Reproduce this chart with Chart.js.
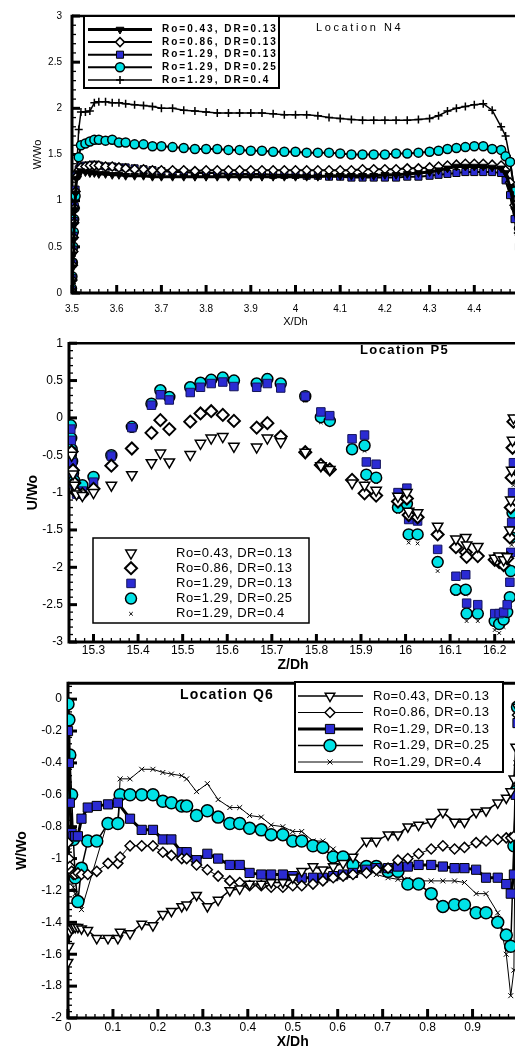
<!DOCTYPE html>
<html>
<head>
<meta charset="utf-8">
<script src="https://cdn.jsdelivr.net/npm/chart.js@4.4.1/dist/chart.umd.min.js"></script>
<style>
  html, body { margin: 0; padding: 0; background: #fff; overflow: hidden; width: 515px; height: 1048px; }
  .panel { position: absolute; left: 0; }
  canvas { display: block; }
</style>
</head>
<body>
<div class="panel" style="top:0px"><canvas id="chartN4" width="525" height="330"></canvas></div>
<div class="panel" style="top:330px"><canvas id="chartP5" width="525" height="345"></canvas></div>
<div class="panel" style="top:670px"><canvas id="chartQ6" width="525" height="385"></canvas></div>
<script>
// ===== Data =====
const caseLabels = ['Ro=0.43, DR=0.13', 'Ro=0.86, DR=0.13', 'Ro=1.29, DR=0.13', 'Ro=1.29, DR=0.25', 'Ro=1.29, DR=0.4'];

// Location N4 (W/Wo against X/Dh)
const n4X = [3.5, 3.501, 3.502, 3.503, 3.504, 3.505, 3.506, 3.508, 3.51, 3.515,
  3.52, 3.53, 3.54, 3.55, 3.56, 3.575, 3.59, 3.605, 3.62, 3.64,
  3.66, 3.68, 3.7, 3.725, 3.75, 3.775, 3.8, 3.825, 3.85, 3.875,
  3.9, 3.925, 3.95, 3.975, 4.0, 4.025, 4.05, 4.075, 4.1, 4.125,
  4.15, 4.175, 4.2, 4.225, 4.25, 4.275, 4.3, 4.32, 4.34, 4.36,
  4.38, 4.4, 4.42, 4.44, 4.46, 4.47, 4.48, 4.49, 4.5];
const n4Ro043 = [0.0, 0.12, 0.28, 0.42, 0.58, 0.74, 0.9, 1.08, 1.24, 1.3,
  1.32, 1.31, 1.3, 1.3, 1.29, 1.29, 1.28, 1.28, 1.27, 1.27,
  1.27, 1.26, 1.26, 1.26, 1.26, 1.26, 1.26, 1.26, 1.26, 1.26,
  1.26, 1.26, 1.26, 1.26, 1.26, 1.26, 1.26, 1.27, 1.27, 1.27,
  1.27, 1.27, 1.28, 1.28, 1.29, 1.3, 1.31, 1.33, 1.35, 1.37,
  1.37, 1.37, 1.37, 1.36, 1.35, 1.3, 1.15, 0.9, 0.6];
const n4Ro086 = [0.02, 0.14, 0.3, 0.45, 0.6, 0.76, 0.92, 1.1, 1.26, 1.33,
  1.36, 1.37, 1.38, 1.38, 1.38, 1.37, 1.37, 1.36, 1.35, 1.34,
  1.34, 1.33, 1.33, 1.33, 1.33, 1.32, 1.33, 1.33, 1.33, 1.33,
  1.33, 1.33, 1.33, 1.33, 1.33, 1.33, 1.33, 1.33, 1.33, 1.33,
  1.34, 1.34, 1.34, 1.34, 1.35, 1.35, 1.36, 1.37, 1.38, 1.39,
  1.4, 1.4, 1.4, 1.39, 1.38, 1.33, 1.2, 0.95, 0.65];
const n4Ro129 = [0.03, 0.16, 0.32, 0.47, 0.62, 0.78, 0.94, 1.12, 1.27, 1.34,
  1.37, 1.38, 1.38, 1.39, 1.38, 1.37, 1.37, 1.36, 1.36, 1.35,
  1.34, 1.33, 1.32, 1.31, 1.31, 1.3, 1.3, 1.3, 1.29, 1.29,
  1.29, 1.29, 1.28, 1.28, 1.28, 1.27, 1.27, 1.26, 1.26, 1.25,
  1.25, 1.25, 1.25, 1.25, 1.26, 1.26, 1.27, 1.28, 1.29, 1.3,
  1.31, 1.31, 1.31, 1.31, 1.3, 1.22, 1.06, 0.8, 0.5];
const n4Dr025 = [0.05, 0.18, 0.33, 0.5, 0.66, 0.8, 0.92, 1.05, 1.28, 1.47,
  1.6, 1.62, 1.64, 1.66, 1.66, 1.65, 1.66, 1.63, 1.63, 1.61,
  1.61, 1.59, 1.59, 1.58, 1.57, 1.56, 1.56, 1.56, 1.55, 1.55,
  1.54, 1.54, 1.53, 1.53, 1.53, 1.52, 1.52, 1.52, 1.51, 1.5,
  1.5, 1.5, 1.5, 1.51, 1.51, 1.52, 1.53, 1.54, 1.56, 1.57,
  1.58, 1.59, 1.59, 1.56, 1.55, 1.48, 1.42, 1.1, 0.7];
const n4Dr04 = [0.02, 0.14, 0.3, 0.46, 0.62, 0.78, 0.94, 1.12, 1.3, 1.77,
  1.96, 1.96, 1.97, 2.06, 2.07, 2.07, 2.06, 2.06, 2.05, 2.04,
  2.03, 2.02, 2.0, 2.0, 1.98, 1.97, 1.96, 1.95, 1.95, 1.95,
  1.95, 1.95, 1.94, 1.93, 1.93, 1.93, 1.92, 1.9, 1.89, 1.88,
  1.87, 1.87, 1.87, 1.87, 1.87, 1.88, 1.89, 1.92, 1.97, 2.0,
  2.02, 2.04, 2.05, 1.98, 1.8, 1.7, 1.45, 1.1, 0.8];
const n4XTicks = [3.5, 3.6, 3.7, 3.8, 3.9, 4.0, 4.1, 4.2, 4.3, 4.4];
const n4YTicks = [0, 0.5, 1, 1.5, 2, 2.5, 3];

// Location P5 (U/Wo against Z/Dh)
const p5Z = [15.249, 15.25, 15.251, 15.252, 15.254, 15.257, 15.262, 15.275, 15.3, 15.34,
  15.386, 15.43, 15.45, 15.47, 15.517, 15.54, 15.564, 15.59, 15.615, 15.666,
  15.69, 15.72, 15.775, 15.81, 15.83, 15.88, 15.908, 15.912, 15.934, 15.983,
  16.003, 16.007, 16.027, 16.072, 16.113, 16.135, 16.137, 16.162, 16.2, 16.21,
  16.22, 16.228, 16.234, 16.236, 16.238, 16.24, 16.242];
const p5Ro043 = [null, null, -0.5, null, -0.75, -0.9, -1.02, -1.04, -1.0, -0.9,
  -0.76, -0.6, -0.47, -0.59, -0.49, -0.34, -0.27, -0.25, -0.38, -0.39,
  -0.27, -0.32, -0.46, -0.64, -0.69, -0.87, -0.9, null, -0.97, -1.05,
  -1.0, -1.25, -1.27, -1.45, -1.62, -1.6, -1.7, -1.72, -1.88, -1.85,
  -1.9, -1.86, -1.5, -1.1, -0.7, -0.3, 0.0];
const p5Ro086 = [null, null, -0.45, null, -0.7, -0.87, -1.0, -1.02, -0.95, -0.64,
  -0.41, -0.2, -0.03, -0.15, -0.05, 0.06, 0.09, 0.04, -0.04, -0.13,
  -0.07, -0.25, -0.46, -0.63, -0.69, -0.83, -1.01, null, -1.04, -1.12,
  -1.08, -1.3, -1.33, -1.56, -1.73, -1.8, -1.86, -1.85, -1.9, -1.93,
  -1.97, -1.88, -1.6, -1.2, -0.8, -0.4, -0.05];
const p5Ro129 = [-0.15, -0.3, -0.45, -0.6, -0.72, -0.88, -1.02, -0.98, -0.86, -0.51,
  -0.13, 0.17, 0.31, 0.24, 0.34, 0.41, 0.46, 0.48, 0.42, 0.41,
  0.46, 0.4, 0.29, 0.08, 0.03, -0.28, -0.23, -0.59, -0.62, -1.0,
  -0.94, -1.36, -1.38, -1.76, -2.12, -2.1, -2.48, -2.5, -2.62, -2.62,
  -2.6, -2.5, -2.2, -1.8, -1.4, -1.0, -0.6];
const p5Dr025 = [-0.1, -0.27, -0.42, -0.58, -0.74, -0.84, -0.93, -0.9, -0.79, -0.5,
  -0.12, 0.19, 0.37, 0.28, 0.41, 0.47, 0.51, 0.54, 0.5, 0.46,
  0.52, 0.46, 0.29, 0.01, -0.04, -0.42, -0.37, -0.76, -0.8, -1.2,
  -1.15, -1.56, -1.56, -1.93, -2.3, -2.3, -2.62, -2.62, -2.72, -2.76,
  -2.7, -2.6, -2.4, -2.05, -1.6, -1.27, -0.8];
const p5Dr04 = [null, -0.22, -0.4, -0.55, -0.72, -0.9, -0.97, -0.94, -0.83, -0.55,
  -0.18, 0.15, 0.33, 0.25, 0.46, 0.51, 0.55, 0.58, 0.54, 0.5,
  0.57, 0.41, 0.23, -0.06, -0.02, -0.47, -0.44, -0.83, -0.86, -1.26,
  -1.22, -1.67, -1.68, -2.05, -2.36, -2.36, -2.72, -2.72, -2.84, -2.88,
  -2.8, -2.7, -2.5, -2.1, -1.7, -1.3, -0.9];
const p5XTicks = [15.3, 15.4, 15.5, 15.6, 15.7, 15.8, 15.9, 16.0, 16.1, 16.2];
const p5YTicks = [-3, -2.5, -2, -1.5, -1, -0.5, 0, 0.5, 1];

// Location Q6 (W/Wo against X/Dh)
const q6X = [0, 0.002, 0.004, 0.008, 0.012, 0.016, 0.022, 0.03, 0.044, 0.064,
  0.089, 0.111, 0.116, 0.138, 0.164, 0.189, 0.211, 0.23, 0.253, 0.264,
  0.286, 0.31, 0.334, 0.36, 0.382, 0.404, 0.43, 0.452, 0.478, 0.5,
  0.52, 0.545, 0.567, 0.59, 0.612, 0.634, 0.664, 0.686, 0.712, 0.734,
  0.756, 0.78, 0.808, 0.834, 0.86, 0.882, 0.908, 0.93, 0.956, 0.975,
  0.985, 0.992, 0.996, 1.0];
const q6Ro043 = [-1.65, -1.55, -1.46, -1.44, -1.43, -1.43, -1.43, -1.44, -1.45, -1.5,
  -1.5, -1.5, -1.46, -1.47, -1.41, -1.42, -1.35, -1.33, -1.3, -1.29,
  -1.23, -1.3, -1.26, -1.2, -1.19, -1.16, -1.16, -1.15, -1.15, -1.12,
  -1.08, -1.05, -1.07, -1.05, -1.03, -0.99, -0.89, -0.89, -0.85, -0.85,
  -0.8, -0.79, -0.77, -0.71, -0.77, -0.77, -0.71, -0.7, -0.65, -0.62,
  -0.58, -0.5, -0.3, -0.05];
const q6Ro086 = [-0.9, -1.0, -1.05, -1.08, -1.1, -1.1, -1.09, -1.1, -1.1, -1.08,
  -1.03, -1.03, -0.99, -0.92, -0.92, -0.92, -0.96, -0.98, -1.0, -1.0,
  -1.04, -1.07, -1.11, -1.14, -1.15, -1.17, -1.17, -1.18, -1.18, -1.17,
  -1.17, -1.16, -1.14, -1.12, -1.11, -1.1, -1.09, -1.07, -1.06, -1.01,
  -1.0, -0.97, -0.94, -0.92, -0.94, -0.93, -0.9, -0.89, -0.88, -0.87,
  -0.87, -0.86, -0.5, -0.1];
const q6Ro129 = [-0.2, -0.4, -0.65, -0.84, -0.86, -0.86, -0.86, -0.75, -0.68, -0.67,
  -0.66, -0.65, null, -0.75, -0.82, -0.82, -0.88, -0.88, -0.96, -0.96,
  -1.01, -0.97, -1.0, -1.04, -1.04, -1.09, -1.1, -1.1, -1.1, -1.11,
  -1.12, -1.12, -1.12, -1.11, -1.1, -1.09, -1.07, -1.06, -1.06, -1.05,
  -1.05, -1.04, -1.04, -1.05, -1.06, -1.06, -1.07, -1.12, -1.12, -1.16,
  -1.22, -1.1, -0.6, -0.15];
const q6Dr025 = [-0.03, -0.13, -0.35, -0.6, -0.88, -1.12, -1.27, -1.06, -0.89, -0.89,
  -0.78, -0.78, -0.6, -0.6, -0.6, -0.6, -0.64, -0.65, -0.67, -0.67,
  -0.73, -0.7, -0.74, -0.78, -0.78, -0.81, -0.82, -0.85, -0.85, -0.89,
  -0.89, -0.92, -0.93, -0.99, -0.99, -1.04, -1.05, -1.05, -1.08, -1.08,
  -1.16, -1.16, -1.22, -1.3, -1.29, -1.29, -1.34, -1.34, -1.4, -1.48,
  -1.55, -0.92, -0.58, -0.05];
const q6Dr04 = [-0.8, -0.95, -1.05, -1.12, -1.18, -1.22, -1.28, -1.32, null, null,
  -0.76, -0.76, -0.5, -0.5, -0.44, -0.44, -0.46, -0.47, -0.48, -0.5,
  -0.58, -0.53, -0.63, -0.68, -0.68, -0.73, -0.74, -0.79, -0.8, -0.83,
  -0.83, -0.89, -0.89, -0.94, -0.99, -1.0, -1.05, -1.1, -1.12, -1.13,
  -1.13, -1.14, -1.14, -1.14, -1.14, -1.15, -1.22, -1.22, -1.34, -1.6,
  -1.86, -1.7, -0.4, -0.05];
const q6XTicks = [0, 0.1, 0.2, 0.3, 0.4, 0.5, 0.6, 0.7, 0.8, 0.9, 1];
const q6YTicks = [-2, -1.8, -1.6, -1.4, -1.2, -1, -0.8, -0.6, -0.4, -0.2, 0];

// ===== Helpers =====
Chart.defaults.font.family = '"Liberation Sans", Arial, sans-serif';
Chart.defaults.color = '#000';

const BLUE = '#2b2bd3';
const CYAN = '#00e2e6';

const fmt = v => String(Number(v.toFixed(2)));
const points = (xs, ys) => xs.map((x, i) => ({ x, y: ys[i] })).filter(p => p.y !== null);
const fixedTicks = list => s => { s.ticks = list.map(v => ({ value: v })); };

// frame + inward tecplot-like ticks
const frameTicks = {
  id: 'frameTicks',
  beforeDatasetsDraw(chart, args, o) {
    const { ctx, chartArea: a, scales: { x, y } } = chart;
    const along = (scale, step, major, draw) => {
      const i0 = Math.ceil(scale.min / step - 1e-6), i1 = Math.floor(scale.max / step + 1e-6);
      for (let i = i0; i <= i1; i++) {
        const r = (i * step) / major;
        draw(scale.getPixelForValue(i * step), Math.abs(r - Math.round(r)) < 1e-6);
      }
    };
    ctx.save();
    ctx.strokeStyle = '#000';
    along(x, o.xMinor, o.xMajor, (px, big) => {
      ctx.lineWidth = big ? 3 : 1.3;
      ctx.beginPath();
      ctx.moveTo(px, a.bottom);
      ctx.lineTo(px, a.bottom - (big ? o.majorLen : o.minorLen));
      ctx.stroke();
    });
    along(y, o.yMinor, o.yMajor, (py, big) => {
      ctx.lineWidth = big ? 3 : 1.3;
      ctx.beginPath();
      ctx.moveTo(a.left, py);
      ctx.lineTo(a.left + (big ? o.majorLen : o.minorLen), py);
      ctx.stroke();
    });
    ctx.lineWidth = o.topW;
    ctx.beginPath();
    ctx.moveTo(a.left, a.top); ctx.lineTo(a.right, a.top); ctx.lineTo(a.right, a.bottom);
    ctx.stroke();
    ctx.lineWidth = o.axisW;
    ctx.beginPath();
    ctx.moveTo(a.left, a.top - o.topW / 2); ctx.lineTo(a.left, a.bottom); ctx.lineTo(a.right, a.bottom);
    ctx.stroke();
    ctx.restore();
  }
};

// boxed legend + location title
const boxLegend = {
  id: 'boxLegend',
  afterDraw(chart, args, o) {
    const ctx = chart.ctx;
    ctx.save();
    ctx.fillStyle = '#fff';
    ctx.fillRect(o.x, o.y, o.w, o.h);
    ctx.strokeStyle = '#000';
    ctx.lineWidth = o.border;
    ctx.strokeRect(o.x, o.y, o.w, o.h);
    ctx.textBaseline = 'middle';
    chart.data.datasets.forEach((ds, i) => {
      const cy = o.row0 + i * o.rowGap;
      if (o.lineFrom != null) {
        ctx.strokeStyle = '#000';
        ctx.lineWidth = ds.borderWidth;
        ctx.beginPath(); ctx.moveTo(o.lineFrom, cy); ctx.lineTo(o.lineTo, cy); ctx.stroke();
      }
      ctx.fillStyle = ds.pointBackgroundColor;
      ctx.strokeStyle = ds.pointBorderColor;
      ctx.lineWidth = ds.pointBorderWidth;
      Chart.helpers.drawPoint(ctx, {
        pointStyle: ds.pointStyle, rotation: ds.pointRotation || 0,
        radius: ds.pointRadius, borderWidth: ds.pointBorderWidth
      }, o.markX, cy);
      ctx.fillStyle = '#000';
      ctx.font = o.font;
      ctx.letterSpacing = o.spacing;
      ctx.fillText(ds.label, o.textX, cy);
    });
    ctx.font = o.titleFont;
    ctx.letterSpacing = o.titleSpacing;
    ctx.fillText(o.title, o.titleX, o.titleY);
    ctx.letterSpacing = '0px';
    ctx.restore();
  }
};

function axes(o) {
  return {
    x: {
      type: 'linear', min: o.xMin, max: o.xMax,
      afterBuildTicks: fixedTicks(o.xTicks),
      afterFit: s => { s.height = o.xH; },
      grid: { display: false, drawTicks: false }, border: { display: false },
      ticks: { callback: fmt, padding: o.xPad, font: o.tickFont, maxRotation: 0, autoSkip: false },
      title: { display: true, text: o.xTitle, font: o.titleFont, padding: { top: 0, bottom: o.xTitlePad } }
    },
    y: {
      type: 'linear', min: o.yMin, max: o.yMax,
      afterBuildTicks: fixedTicks(o.yTicks),
      afterFit: s => { s.width = o.yW; },
      grid: { display: false, drawTicks: false }, border: { display: false },
      ticks: { callback: fmt, padding: o.yPad, font: o.tickFont, autoSkip: false },
      title: { display: true, text: o.yTitle, font: o.titleFont, padding: { top: o.yTitlePad, bottom: 0 } }
    }
  };
}

function build(id, datasets, scales, padding, frame, legend) {
  return new Chart(document.getElementById(id), {
    type: 'scatter',
    data: { datasets },
    options: {
      responsive: false, animation: false, events: [],
      layout: { padding },
      scales,
      plugins: { legend: { display: false }, tooltip: { enabled: false }, frameTicks: frame, boxLegend: legend }
    },
    plugins: [frameTicks, boxLegend]
  });
}

const mk = (label, xs, ys, st) => Object.assign({ label, data: points(xs, ys), borderColor: '#000', pointBorderColor: '#000', pointHoverRadius: 0 }, st);

// ===== Location N4 =====
build('chartN4', [
  mk(caseLabels[0], n4X, n4Ro043, { showLine: true, borderWidth: 3, pointStyle: 'triangle', pointRotation: 180, pointRadius: 4.5, pointBackgroundColor: '#000', pointBorderWidth: 1 }),
  mk(caseLabels[1], n4X, n4Ro086, { showLine: true, borderWidth: 2, pointStyle: 'rectRot', pointRadius: 4.5, pointBackgroundColor: '#fff', pointBorderWidth: 1.5 }),
  mk(caseLabels[2], n4X, n4Ro129, { showLine: true, borderWidth: 2, pointStyle: 'rect', pointRadius: 5, pointBackgroundColor: BLUE, pointBorderWidth: 1 }),
  mk(caseLabels[3], n4X, n4Dr025, { showLine: true, borderWidth: 2, pointStyle: 'circle', pointRadius: 4.5, pointBackgroundColor: CYAN, pointBorderWidth: 1.5 }),
  mk(caseLabels[4], n4X, n4Dr04, { showLine: true, borderWidth: 1.5, pointStyle: 'cross', pointRadius: 4, pointBackgroundColor: '#000', pointBorderWidth: 1.5 })
], axes({
  xMin: 3.5, xMax: 4.5, xTicks: n4XTicks, xH: 37, xPad: 10, xTitle: 'X/Dh', xTitlePad: 1.5,
  yMin: 0, yMax: 3, yTicks: n4YTicks, yW: 72, yPad: 10, yTitle: 'W/Wo', yTitlePad: 31,
  tickFont: { size: 10 }, titleFont: { size: 11 }
}), { top: 11, right: 3, left: 0, bottom: 0 },
{ xMinor: 0.02, xMajor: 0.1, yMinor: 0.1, yMajor: 0.5, majorLen: 8, minorLen: 4, axisW: 3, topW: 2.5 },
{ x: 84, y: 16, w: 195, h: 72, border: 2, row0: 29.5, rowGap: 12.6, lineFrom: 88, lineTo: 152, markX: 120, textX: 162,
  font: 'bold 10px "Liberation Sans", Arial', spacing: '2px',
  title: 'Location N4', titleX: 316, titleY: 28, titleFont: '11px "Liberation Sans", Arial', titleSpacing: '2.6px' });

// ===== Location P5 =====
build('chartP5', [
  mk(caseLabels[0], p5Z, p5Ro043, { pointStyle: 'triangle', pointRotation: 180, pointRadius: 6, pointBackgroundColor: '#fff', pointBorderWidth: 1.5 }),
  mk(caseLabels[1], p5Z, p5Ro086, { pointStyle: 'rectRot', pointRadius: 6, pointBackgroundColor: '#fff', pointBorderWidth: 2 }),
  mk(caseLabels[2], p5Z, p5Ro129, { pointStyle: 'rect', pointRadius: 6, pointBackgroundColor: BLUE, pointBorderColor: '#14145a', pointBorderWidth: 1 }),
  mk(caseLabels[3], p5Z, p5Dr025, { pointStyle: 'circle', pointRadius: 5.5, pointBackgroundColor: CYAN, pointBorderWidth: 1.5 }),
  mk(caseLabels[4], p5Z, p5Dr04, { pointStyle: 'crossRot', pointRadius: 2.5, pointBackgroundColor: '#000', pointBorderWidth: 1 })
], axes({
  xMin: 15.245, xMax: 16.25, xTicks: p5XTicks, xH: 33, xPad: 1, xTitle: 'Z/Dh', xTitlePad: 1.6,
  yMin: -3, yMax: 1, yTicks: p5YTicks, yW: 69, yPad: 6, yTitle: 'U/Wo', yTitlePad: 24.6,
  tickFont: { size: 12 }, titleFont: { size: 14, weight: 'bold' }
}), { top: 7, right: 5, left: 0, bottom: 0 },
{ xMinor: 0.02, xMajor: 0.1, yMinor: 0.1, yMajor: 0.5, majorLen: 8, minorLen: 4, axisW: 3, topW: 2.5 },
{ x: 93, y: 208, w: 216, h: 85, border: 1.5, row0: 223, rowGap: 15.2, lineFrom: null, markX: 131, textX: 176,
  font: '13px "Liberation Sans", Arial', spacing: '0.5px',
  title: 'Location P5', titleX: 360, titleY: 20, titleFont: 'bold 13px "Liberation Sans", Arial', titleSpacing: '1.4px' });

// ===== Location Q6 =====
build('chartQ6', [
  mk(caseLabels[0], q6X, q6Ro043, { showLine: true, borderWidth: 1.5, pointStyle: 'triangle', pointRotation: 180, pointRadius: 5.5, pointBackgroundColor: '#fff', pointBorderWidth: 1.5 }),
  mk(caseLabels[1], q6X, q6Ro086, { showLine: true, borderWidth: 1, pointStyle: 'rectRot', pointRadius: 5, pointBackgroundColor: '#fff', pointBorderWidth: 1.5 }),
  mk(caseLabels[2], q6X, q6Ro129, { showLine: true, borderWidth: 3, pointStyle: 'rect', pointRadius: 6.5, pointBackgroundColor: BLUE, pointBorderWidth: 1 }),
  mk(caseLabels[3], q6X, q6Dr025, { showLine: true, borderWidth: 1.5, pointStyle: 'circle', pointRadius: 6, pointBackgroundColor: CYAN, pointBorderWidth: 1.5 }),
  mk(caseLabels[4], q6X, q6Dr04, { showLine: true, borderWidth: 1, pointStyle: 'crossRot', pointRadius: 3.5, pointBackgroundColor: '#000', pointBorderWidth: 1 })
], axes({
  xMin: 0, xMax: 1, xTicks: q6XTicks, xH: 37, xPad: 2, xTitle: 'X/Dh', xTitlePad: 4.6,
  yMin: -2, yMax: 0.1, yTicks: q6YTicks, yW: 68, yPad: 6, yTitle: 'W/Wo', yTitlePad: 13.6,
  tickFont: { size: 12 }, titleFont: { size: 14, weight: 'bold' }
}), { top: 6, right: 7, left: 0, bottom: 0 },
{ xMinor: 0.02, xMajor: 0.1, yMinor: 0.04, yMajor: 0.2, majorLen: 9, minorLen: 4, axisW: 3, topW: 3 },
{ x: 295, y: 12, w: 208, h: 90, border: 2, row0: 26, rowGap: 16.5, lineFrom: 298, lineTo: 363, markX: 330, textX: 373,
  font: '13px "Liberation Sans", Arial', spacing: '0.5px',
  title: 'Location Q6', titleX: 180, titleY: 25, titleFont: 'bold 14px "Liberation Sans", Arial', titleSpacing: '1.2px' });
</script>
</body>
</html>
